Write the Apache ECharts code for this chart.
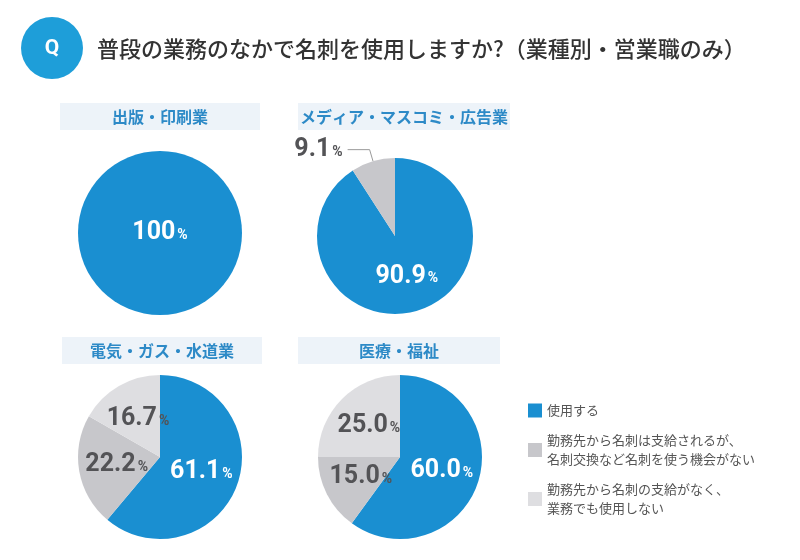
<!DOCTYPE html>
<html>
<head>
<meta charset="utf-8">
<script src="https://cdn.jsdelivr.net/npm/echarts@6/dist/echarts.min.js"></script>
<style>
  html, body { margin: 0; padding: 0; background: #fff; }
  #chart { width: 800px; height: 560px; }
</style>
</head>
<body>
<div id="chart"></div>
<script>
// 業種
const industries = ['出版・印刷業', 'メディア・マスコミ・広告業', '電気・ガス・水道業', '医療・福祉'];
// 回答
const answers = [
  '使用する',
  '勤務先から名刺は支給されるが、名刺交換など名刺を使う機会がない',
  '勤務先から名刺の支給がなく、業務でも使用しない'
];
// 割合 (%)
const usePct = [100, 90.9, 61.1, 60.0];
const noChancePct = [0, 9.1, 22.2, 15.0];
const noCardPct = [0, 0, 16.7, 25.0];

const answerColors = ['#1A8FD1', '#C7C7CB', '#DEDEE1'];
const CJK = '"Noto Sans CJK JP", "Noto Sans", sans-serif';
const NUM = '"Liberation Sans Narrow", Roboto, sans-serif';

// レイアウト
const pieCenters = [[160, 233], [395, 236], [160, 457], [400, 457]];
const pieRadius = [82, 78, 82, 82];
const boxPos = [[60, 103, 200], [298, 103, 212], [62, 337, 200], [298, 337, 202]];

const chartDom = document.getElementById('chart');
const myChart = echarts.init(chartDom, null, { renderer: 'canvas' });

function pctLabel(p) {
  const s = p.value === 100 ? '100' : p.value.toFixed(1);
  return '{n|' + s + '}{p|%}';
}

const rich = {
  n: { fontSize: 25, fontWeight: 'bold', fontFamily: NUM },
  p: { fontSize: 14, fontWeight: 'bold', fontFamily: NUM, padding: [5, 0, 0, 2] }
};

const series = industries.map(function (name, i) {
  const vals = [usePct[i], noChancePct[i], noCardPct[i]];
  const data = [];
  vals.forEach(function (v, k) {
    if (v <= 0) return;
    const item = {
      name: answers[k],
      value: v,
      itemStyle: { color: answerColors[k] },
      label: { color: k === 0 ? '#fff' : '#535356' }
    };
    if (v === 100) item.label.position = 'center';
    // 9.1% は外側ラベル
    if (i === 1 && k === 1) {
      item.label.position = 'outside';
      item.labelLine = { show: true, length: 12, length2: 22, lineStyle: { color: '#9A9A9A', width: 1 } };
    }
    data.push(item);
  });
  return {
    name: name,
    type: 'pie',
    center: pieCenters[i],
    radius: pieRadius[i],
    startAngle: 90,
    clockwise: true,
    silent: true,
    animation: false,
    label: { show: true, position: 'inside', formatter: pctLabel, rich: rich },
    labelLine: { show: false },
    itemStyle: { borderWidth: 0 },
    data: data
  };
});

const graphics = [
  { type: 'circle', shape: { cx: 52, cy: 48, r: 31 }, style: { fill: '#1E9ED9' } },
  { type: 'text', x: 52, y: 49, style: { text: 'Q', fill: '#fff', fontSize: 21, fontWeight: 'bold', fontFamily: 'Roboto, sans-serif', align: 'center', verticalAlign: 'middle' } },
  { type: 'text', x: 97, y: 49, style: { text: '普段の業務のなかで名刺を使用しますか?（業種別・営業職のみ）', fill: '#333', font: '500 22px ' + CJK, verticalAlign: 'middle' } }
];
industries.forEach(function (name, i) {
  const b = boxPos[i];
  graphics.push({ type: 'rect', shape: { x: b[0], y: b[1], width: b[2], height: 27 }, style: { fill: '#EDF3F9' } });
  graphics.push({ type: 'text', x: b[0] + b[2] / 2, y: b[1] + 14, style: { text: name, fill: '#2D8AC7', font: 'bold 16px ' + CJK, align: 'center', verticalAlign: 'middle' } });
});

const legendBase = {
  orient: 'vertical',
  left: 528,
  padding: 0,
  selectedMode: false,
  icon: 'rect',
  itemWidth: 14,
  itemHeight: 14,
  itemGap: 0,
  formatter: function (n) { return n.replace('、', '、\n'); },
  textStyle: { fontSize: 13, color: '#555', fontFamily: CJK, lineHeight: 19 }
};

const option = {
  backgroundColor: '#fff',
  animation: false,
  graphic: graphics,
  legend: [
    Object.assign({}, legendBase, { top: 401, data: [answers[0]] }),
    Object.assign({}, legendBase, { top: 421.5, data: [answers[1]], textStyle: Object.assign({}, legendBase.textStyle, { padding: [19, 0, 0, 0] }) }),
    Object.assign({}, legendBase, { top: 470.5, data: [answers[2]], textStyle: Object.assign({}, legendBase.textStyle, { padding: [19, 0, 0, 0] }) })
  ],
  series: series
};

myChart.setOption(option);
</script>
</body>
</html>
